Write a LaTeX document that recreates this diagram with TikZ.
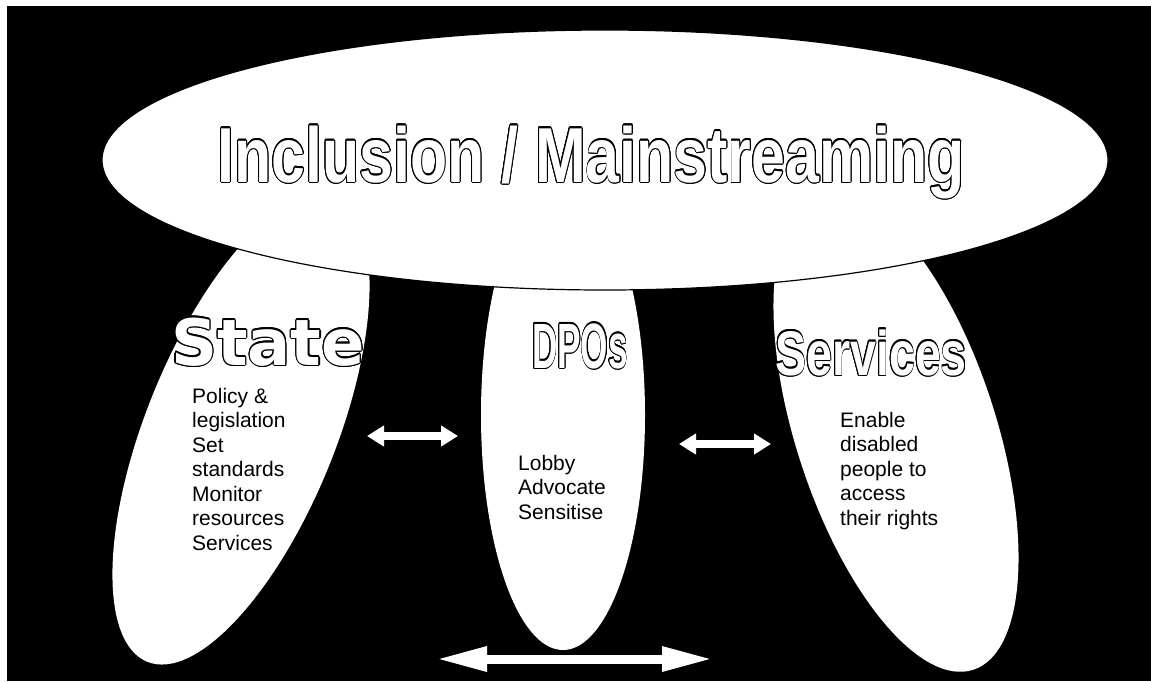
\documentclass[tikz,border=0pt]{standalone}
\usepackage{fontspec}
\setmainfont{Liberation Sans}
\newfontfamily\widefont{DejaVu Sans}
\usepackage{contour}
\contourlength{1.1pt}
\usetikzlibrary{arrows.meta,shapes.geometric}
\tikzset{leg/.style={ellipse,fill=white,inner sep=0pt},head/.style={inner sep=0pt,text=white,anchor=base},body/.style={inner sep=0pt,align=left,anchor=base west,font=\fontsize{21}{24.5}\selectfont},swap/.style={draw=white,line width=8pt,{Triangle[length=17pt,width=20pt]}-{Triangle[length=17pt,width=20pt]}}}
\newcommand{\outl}[1]{\contour{black}{#1}}

\begin{document}
\begin{tikzpicture}[x=1pt,y=-1pt]
\useasboundingbox (0,0) rectangle (1151,681);
\fill[black] (7,6) rectangle (1151,681);
\node[leg,minimum width=500pt,minimum height=190pt,rotate=68] (state) at (241,430) {};
\node[leg,minimum width=500pt,minimum height=200pt,rotate=108] (services) at (896,432) {};
\node[leg,minimum width=164pt,minimum height=470pt] (dpos) at (563,415) {};
\node[leg,draw=black,line width=1.2pt,minimum width=1006pt,minimum height=260pt] (incl) at (605,160) {};
\node[head] (incltxt) at (591,182) {\scalebox{0.78}[1]{\fontsize{78}{80}\selectfont\bfseries\outl{Inclusion / Mainstreaming}}};
\node[head] (statetxt) at (268,365) {\fontsize{64}{66}\selectfont\widefont\bfseries\outl{State}};
\node[head] (dpostxt) at (580,368) {\scalebox{0.55}[1]{\fontsize{64}{66}\selectfont\bfseries\outl{DPOs}}};
\node[head] (servtxt) at (871,375) {\scalebox{0.74}[1]{\fontsize{63}{66}\selectfont\bfseries\outl{Services}}};
% multi-line text sits on the baseline of its last line
\node[body] (statebody) at (192,550) {Policy \&\\legislation\\Set\\standards\\Monitor\\resources\\Services};
\node[body] (dposbody) at (518,519) {Lobby\\Advocate\\Sensitise};
\node[body] (servbody) at (840,525) {Enable\\disabled\\people to\\access\\their rights};
% arrows between the groups
\coordinate (sl) at (367,436);
\coordinate (sr) at (458,436);
\coordinate (dl) at (679,444);
\coordinate (dr) at (771,444);
\coordinate (bl) at (436,659);
\coordinate (br) at (713,659);
\draw[swap] (sl) -- (sr);
\draw[swap] (dl) -- (dr);
\draw[swap,line width=9pt,{Triangle[length=51pt,width=23pt]}-{Triangle[length=51pt,width=23pt]}] (bl) -- (br);
\end{tikzpicture}
\end{document}
